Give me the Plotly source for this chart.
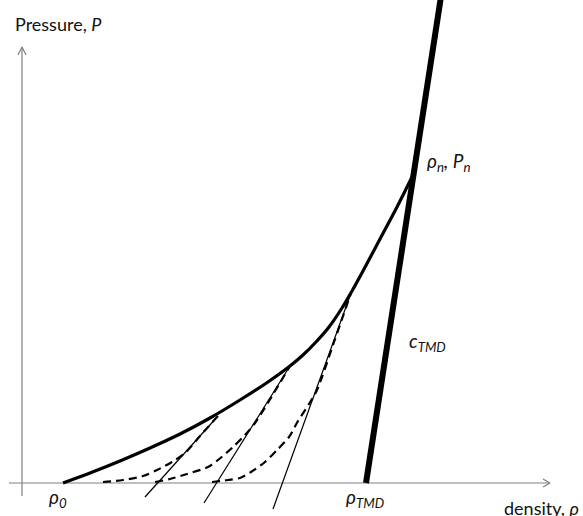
import plotly.graph_objects as go

# Schematic values (density, pressure) in arbitrary units, origin at axes intersection
hugoniot_rho = [41, 68, 98, 128, 158, 188, 218, 243, 268, 281, 294, 307, 320, 330, 341, 358, 375, 392]
hugoniot_p = [0, 10, 22, 35, 49, 65, 83, 99, 117, 128, 141, 156, 175, 192, 212, 244, 276, 310]

tmd_rho = [344, 420]
tmd_p = [0, 493]

rayleigh = [
    ([123, 196], [-14, 67]),
    ([182, 268], [-20, 117]),
    ([251, 329], [-26, 190]),
]

dashed = [
    ([81, 101, 121, 135, 150, 164, 178, 196], [1, 3, 7, 13, 21, 31, 47, 67]),
    ([133, 148, 165, 186, 196, 211, 223, 233, 250, 268], [1, 4, 9, 16, 23, 36, 48, 60, 87, 117]),
    ([190, 206, 218, 229, 243, 255, 267, 276, 287, 295, 312, 329],
     [1, 3, 5, 11, 21, 33, 46, 62, 79, 93, 141, 190]),
]

axis_x = ([-13, 528], [0, 0])
axis_y = ([0, 0], [-13, 436])
arrow_x = ([521, 528, 521], [4, 0, -4])
arrow_y = ([-4, 0, 4], [428, 436, 428])

axis_titles = [
    ("Pressure, <i>P</i>", -9, 459),
    ("density, <i>ρ</i>", 480, -25),
]
point_labels = [
    ("<i>ρ<sub>0</sub></i>", 25, -15),
    ("<i>ρ<sub>TMD</sub></i>", 322, -15),
    ("<i>ρ<sub>n</sub>, P<sub>n</sub></i>", 403, 321),
    ("<i>c<sub>TMD</sub></i>", 385, 141),
]

fig = go.Figure()
axis_style = dict(color="#808080", width=1.2)
for xs, ys in (axis_x, axis_y, arrow_x, arrow_y):
    fig.add_trace(go.Scatter(x=xs, y=ys, mode="lines", line=axis_style, hoverinfo="skip"))

for xs, ys in rayleigh:
    fig.add_trace(go.Scatter(x=xs, y=ys, mode="lines", line=dict(color="black", width=1.2)))

for xs, ys in dashed:
    fig.add_trace(go.Scatter(x=xs, y=ys, mode="lines",
                             line=dict(color="black", width=2.2, dash="8px,5px", shape="spline", smoothing=0.8)))

fig.add_trace(go.Scatter(x=hugoniot_rho, y=hugoniot_p, mode="lines",
                         line=dict(color="black", width=3.2, shape="spline", smoothing=0.8)))
fig.add_trace(go.Scatter(x=tmd_rho, y=tmd_p, mode="lines", line=dict(color="black", width=6)))

for group, size in ((axis_titles, 18), (point_labels, 19)):
    for text, x, y in group:
        fig.add_annotation(x=x, y=y, text=text, showarrow=False, xanchor="left", yanchor="middle",
                           font=dict(family="Lato, Open Sans, sans-serif", size=size, color="#111111"))

fig.update_layout(
    width=583, height=516,
    margin=dict(l=0, r=0, t=0, b=0),
    paper_bgcolor="white", plot_bgcolor="white",
    showlegend=False,
    xaxis=dict(range=[-22, 561], visible=False, fixedrange=True),
    yaxis=dict(range=[-33, 483], visible=False, fixedrange=True),
)

fig.write_html("out.html", config=dict(displayModeBar=False))
